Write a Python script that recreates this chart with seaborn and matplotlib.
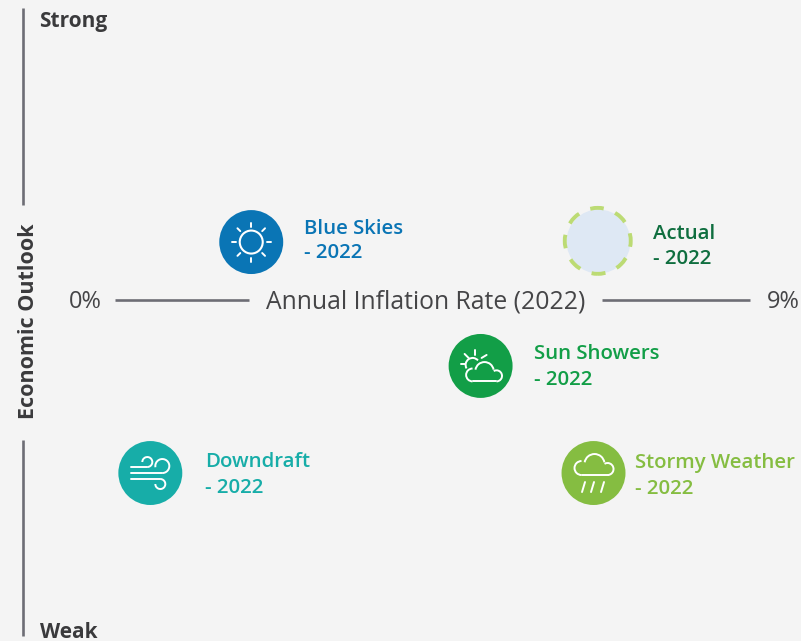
#!/usr/bin/env python3

import numpy as np
import pandas as pd
import seaborn as sns
import matplotlib.pyplot as plt
from matplotlib.patches import Arc, Circle
from matplotlib.transforms import Affine2D

scenarios = ["Blue Skies", "Sun Showers", "Downdraft", "Stormy Weather"]
inflation = [1.93, 5.18, 0.50, 6.78]
outlook = [1.93, -2.20, -5.77, -5.77]
actual_inflation = [6.84]
actual_outlook = [1.97]
year_label = "- 2022"
axis_min_label = "0%"
axis_max_label = "9%"

colors = ["#0A75B5", "#129E47", "#17ADA8", "#85BD41"]
BG = "#F4F4F4"
AXIS = "#6D6D75"
DARK = "#3A3A3C"

sns.set_theme(style="white", rc={"figure.facecolor": BG, "axes.facecolor": BG})
plt.rcParams["font.family"] = ["Open Sans", "DejaVu Sans"]

df = pd.DataFrame({"scenario": scenarios, "inflation": inflation, "outlook": outlook})

fig = plt.figure(figsize=(8.01, 6.41), dpi=100)
ax = fig.add_axes([0, 0, 1, 1])
ax.set_xlim(-1.63, 9.72)
ax.set_ylim(-11.37, 10)
ax.axis("off")

# axes are split to make room for their titles
ax.hlines(0, 0, 1.90, color=AXIS, lw=1.9)
ax.hlines(0, 6.90, 9, color=AXIS, lw=1.9)
ax.vlines(-1.304, 3.17, 9.73, color=AXIS, lw=1.9)
ax.vlines(-1.304, -11.2, -4.67, color=AXIS, lw=1.9)

sns.scatterplot(data=df, x="inflation", y="outlook", hue="scenario", palette=colors,
                hue_order=scenarios, s=2120, linewidth=0, legend=False, ax=ax, zorder=3)
ax.scatter(actual_inflation, actual_outlook, s=2120, color="#DEE8F4", linewidth=0, zorder=3)
ax.scatter(actual_inflation, actual_outlook, s=2256, facecolor="none", edgecolor="#BCDB74",
           linewidth=2.8, linestyle=(1.5, (3.5, 3.15)), zorder=4)


def icon_transform(x, y):
    # icon shapes are in pixels around the marker, y pointing down
    px, py = ax.transData.transform((x, y))
    return Affine2D().scale(1, -1).translate(px, py)


def stroke(tr, xs, ys, lw=1.4):
    ax.plot(xs, ys, color="white", lw=lw, solid_capstyle="round", transform=tr, zorder=5)


def arc(tr, cx, cy, r, t1, t2, lw=1.4):
    ax.add_patch(Arc((cx, cy), 2 * r, 2 * r, theta1=t1, theta2=t2, color="white", lw=lw,
                     transform=tr, zorder=5))


def draw_sun(tr):
    ax.add_patch(Circle((0, 0), 11.5, fill=False, ec="white", lw=1.5, transform=tr, zorder=5))
    for a in np.arange(0, 360, 45):
        c, s = np.cos(np.radians(a)), np.sin(np.radians(a))
        stroke(tr, [15.5 * c, 19.5 * c], [15.5 * s, 19.5 * s])


def cloud(tr, dx, dy, k=1.0):
    stroke(tr, [dx - 12 * k, dx + 14 * k], [dy + 7 * k, dy + 7 * k])
    arc(tr, dx - 12 * k, dy, 7 * k, 90, 270)
    arc(tr, dx + k, dy - 4 * k, 10 * k, 190, 350)
    arc(tr, dx + 14 * k, dy + k, 6 * k, 240, 90)


def draw_sun_cloud(tr):
    cloud(tr, 3, 9, 0.92)
    arc(tr, -8, -1, 7, 150, 320)
    stroke(tr, [-20, -16], [-2, -2])
    stroke(tr, [-16, -12], [-12, -8])
    stroke(tr, [-6, -6], [-16, -11])
    stroke(tr, [1, 6], [-8, -11])


def draw_wind(tr):
    stroke(tr, [-19, -3], [-6, -6])
    stroke(tr, [-19, 12], [0, 0])
    stroke(tr, [-19, 10], [6, 6])
    arc(tr, -3, -11, 5, 180, 90)
    arc(tr, 12, -7, 7, 170, 90)
    arc(tr, 10, 11, 5, 270, 180)


def draw_rain(tr):
    cloud(tr, 0, -5)
    for dx in [-10, -1, 9]:
        stroke(tr, [dx - 1.5, dx + 1.5], [19, 9])


for name, x, y, draw in zip(scenarios, inflation, outlook,
                            [draw_sun, draw_sun_cloud, draw_wind, draw_rain]):
    draw(icon_transform(x, y))

# pixel offsets of each label from its marker
label_dx = {"Blue Skies": 53, "Sun Showers": 53, "Downdraft": 55, "Stormy Weather": 41}
label_dy = {"Blue Skies": -1, "Sun Showers": 1, "Downdraft": 2, "Stormy Weather": 3}
label_sp = {"Blue Skies": 1.25, "Sun Showers": 1.35, "Downdraft": 1.35, "Stormy Weather": 1.35}
for name, x, y, col in zip(scenarios, inflation, outlook, colors):
    ax.annotate(f"{name}\n{year_label}", (x, y), xytext=(label_dx[name] * 0.72, -label_dy[name] * 0.72),
                textcoords="offset points", color=col, fontsize=14.7, fontweight="semibold",
                va="center", ha="left", linespacing=label_sp[name])
ax.annotate(f"Actual\n{year_label}", (actual_inflation[0], actual_outlook[0]),
            xytext=(55 * 0.72, -4), textcoords="offset points", color="#0F6E3F",
            fontsize=14.7, fontweight="semibold", va="center", ha="left", linespacing=1.3)

ax.text(4.4, -0.06, "Annual Inflation Rate (2022)", ha="center", va="center", fontsize=17.8, color="#454547")
ax.text(-0.42, -0.06, axis_min_label, ha="center", va="center", fontsize=17, color="#454547")
ax.text(9.47, -0.06, axis_max_label, ha="center", va="center", fontsize=17, color="#454547")
ax.text(-1.23, -0.7, "Economic Outlook", ha="center", va="center", rotation=90, fontsize=15.5,
        fontweight="bold", color=DARK)
ax.text(-1.07, 9.28, "Strong", ha="left", va="center", fontsize=15, fontweight="bold", color=DARK)
ax.text(-1.07, -11.08, "Weak", ha="left", va="center", fontsize=15, fontweight="bold", color=DARK)

plt.savefig("out.png", dpi=100, facecolor=BG)
